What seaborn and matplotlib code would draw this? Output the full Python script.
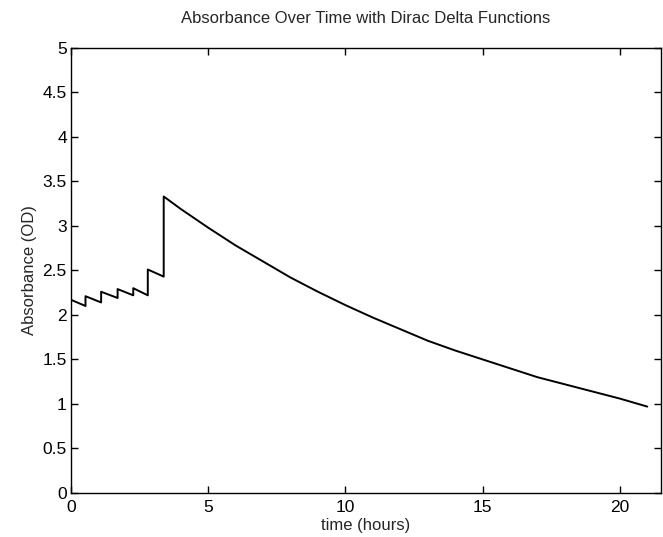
import matplotlib
matplotlib.use("Agg")
import matplotlib.pyplot as plt
import seaborn as sns
import pandas as pd

time_hours = [0.0, 0.53, 0.53, 1.10, 1.10, 1.70, 1.70, 2.27, 2.27, 2.80, 2.80,
              3.38, 3.38, 4.0, 5.0, 6.0, 7.0, 8.0, 9.0, 10.0, 11.0, 12.0,
              13.0, 14.0, 15.0, 16.0, 17.0, 18.0, 19.0, 20.0, 21.0]
absorbance = [2.17, 2.10, 2.21, 2.14, 2.26, 2.19, 2.29, 2.22, 2.30, 2.22, 2.51,
              2.43, 3.33, 3.19, 2.98, 2.78, 2.60, 2.42, 2.26, 2.11, 1.97, 1.84,
              1.71, 1.60, 1.50, 1.40, 1.30, 1.22, 1.14, 1.06, 0.97]
x_ticks = [0, 5, 10, 15, 20]
y_ticks = [0, 0.5, 1, 1.5, 2, 2.5, 3, 3.5, 4, 4.5, 5]
y_tick_labels = ["0", "0.5", "1", "1.5", "2", "2.5", "3", "3.5", "4", "4.5", "5"]

sns.set_style("ticks")
plt.rcParams["font.family"] = ["Liberation Sans", "DejaVu Sans"]

df = pd.DataFrame({"time": time_hours, "abs": absorbance})

fig = plt.figure(figsize=(6.63, 5.37), dpi=100)
ax = fig.add_axes([0.107, 0.082, 0.890, 0.829])

sns.lineplot(data=df, x="time", y="abs", estimator=None, sort=False,
             color="black", linewidth=1.4, ax=ax)

ax.set_xlim(0, 21.5)
ax.set_ylim(0, 5)
ax.set_xticks(x_ticks)
ax.set_xticklabels([str(v) for v in x_ticks])
ax.set_yticks(y_ticks)
ax.set_yticklabels(y_tick_labels)
ax.tick_params(direction="in", top=True, right=True, length=5, width=1,
               labelsize=12.5, colors="black", pad=3)
ax.tick_params(axis="x", pad=5)
for s in ax.spines.values():
    s.set_visible(True)
    s.set_color("black")
    s.set_linewidth(1.0)

ax.set_xlabel("time (hours)", fontsize=12, labelpad=2)
ax.set_ylabel("Absorbance (OD)", fontsize=12, labelpad=4)
ax.set_title("Absorbance Over Time with Dirac Delta Functions", fontsize=12, pad=18)

fig.savefig("out.png", dpi=100)
